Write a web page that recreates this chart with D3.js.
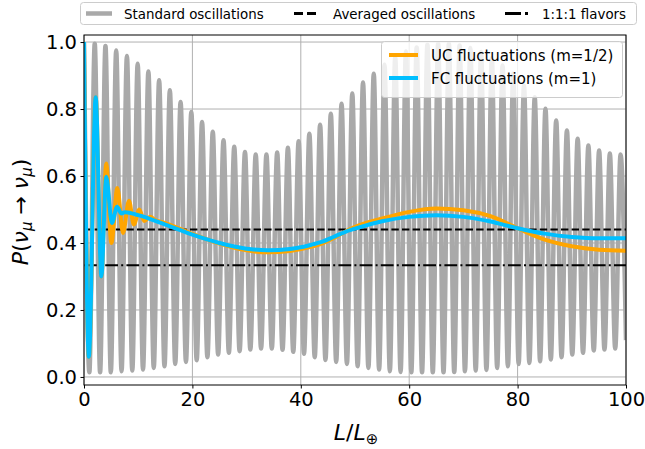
<!DOCTYPE html>
<html>
<head>
<meta charset="utf-8">
<script src="https://cdn.jsdelivr.net/npm/d3@7"></script>
<style>
  body { margin: 0; background: #fff; }
  text { font-family: "DejaVu Sans", sans-serif; }
</style>
</head>
<body>
<svg id="chart" width="645" height="449"></svg>
<script>
// grey curve: read peaks and troughs of the standard oscillations
const peakL = [0, 1.98, 3.96, 5.94, 7.92, 9.90, 11.88, 13.86, 15.84, 17.82, 19.80, 21.78, 23.76, 25.74, 27.72, 29.70, 31.68,
  33.66, 35.64, 37.62, 39.60, 41.58, 43.56, 45.54, 47.52, 49.50, 51.48, 53.46, 55.44, 57.42, 59.40, 61.38, 63.36, 65.34,
  67.32, 69.30, 71.28, 73.26, 75.24, 77.22, 79.20, 81.18, 83.16, 85.14, 87.12, 89.10, 91.08, 93.06, 95.04, 97.02, 99.00];
const peakP = [1.0, 0.995, 0.988, 0.975, 0.958, 0.935, 0.912, 0.886, 0.856, 0.821, 0.791, 0.761, 0.732, 0.707, 0.687, 0.672, 0.664,
  0.664, 0.670, 0.684, 0.704, 0.726, 0.753, 0.786, 0.816, 0.846, 0.879, 0.905, 0.932, 0.955, 0.972, 0.984, 0.992, 0.995,
  0.995, 0.990, 0.982, 0.970, 0.952, 0.930, 0.905, 0.870, 0.835, 0.801, 0.766, 0.736, 0.711, 0.691, 0.676, 0.667, 0.664];
const troughL = [0.99, 2.97, 4.95, 6.93, 8.91, 10.89, 12.87, 14.85, 16.83, 18.81, 20.79, 22.77, 24.75, 26.73, 28.71, 30.69,
  32.67, 34.65, 36.63, 38.61, 40.59, 42.57, 44.55, 46.53, 48.51, 50.49, 52.47, 54.45, 56.43, 58.41, 60.39, 62.37, 64.35,
  66.33, 68.31, 70.29, 72.27, 74.25, 76.23, 78.21, 80.19, 82.17, 84.15, 86.13, 88.11, 90.09, 92.07, 94.05, 96.03, 98.01, 100];
const troughP = [0.014, 0.014, 0.014, 0.017, 0.019, 0.022, 0.027, 0.032, 0.039, 0.045, 0.050, 0.059, 0.067, 0.072, 0.077, 0.082,
  0.085, 0.085, 0.081, 0.075, 0.069, 0.059, 0.051, 0.045, 0.039, 0.032, 0.027, 0.022, 0.017, 0.015, 0.014, 0.014, 0.014,
  0.014, 0.015, 0.017, 0.019, 0.021, 0.027, 0.032, 0.039, 0.042, 0.047, 0.052, 0.059, 0.067, 0.072, 0.079, 0.082, 0.085, 0.11];

// UC fluctuations (m=1/2)
const ucL = [0, 0.9, 2.15, 3.2, 4.1, 5.05, 6.15, 7.2, 8.3, 9.2, 10.2, 11.1, 12.2, 13.2, 14.5, 20, 25, 30, 34, 38, 42, 44, 46,
  48, 50, 55, 60, 65, 70, 75, 80, 85, 90, 95, 100];
const ucP = [1.0, 0.06, 0.835, 0.30, 0.637, 0.40, 0.564, 0.43, 0.526, 0.455, 0.50, 0.466, 0.478, 0.468, 0.462, 0.427, 0.398,
  0.378, 0.372, 0.376, 0.389, 0.399, 0.414, 0.432, 0.448, 0.473, 0.493, 0.503, 0.498, 0.480, 0.444, 0.410, 0.390, 0.380, 0.377];

// FC fluctuations (m=1)
const fcL = [0, 0.9, 2.15, 3.2, 4.1, 5.15, 6.1, 6.9, 7.6, 10, 15, 20, 25, 30, 34, 38, 40.5, 42, 44, 46, 48, 50, 55, 60, 65,
  70, 75, 80, 85, 90, 95, 100];
const fcP = [1.0, 0.06, 0.835, 0.30, 0.598, 0.46, 0.508, 0.488, 0.492, 0.483, 0.455, 0.425, 0.400, 0.383, 0.378, 0.382,
  0.389, 0.395, 0.404, 0.418, 0.432, 0.443, 0.465, 0.478, 0.483, 0.478, 0.464, 0.444, 0.428, 0.418, 0.414, 0.414];

const avgP = 0.44;
const flavorP = 1 / 3;
const xTicks = [0, 20, 40, 60, 80, 100];
const yTicks = [0.0, 0.2, 0.4, 0.6, 0.8, 1.0];

const svg = d3.select('#chart');
const area = { left: 84, right: 626, top: 35, bottom: 385 };

const x = d3.scaleLinear().domain([0, 100]).range([area.left, area.right]);
const y = d3.scaleLinear().domain([-0.024, 1.021]).range([area.bottom, area.top]);

svg.append('defs').append('clipPath').attr('id', 'clip')
  .append('rect')
  .attr('x', area.left).attr('y', area.top)
  .attr('width', area.right - area.left).attr('height', area.bottom - area.top);

// grid
svg.append('g').selectAll('line').data(xTicks).enter().append('line')
  .attr('x1', d => x(d)).attr('x2', d => x(d))
  .attr('y1', area.top).attr('y2', area.bottom)
  .attr('stroke', '#b0b0b0').attr('stroke-width', 1);
svg.append('g').selectAll('line').data(yTicks).enter().append('line')
  .attr('y1', d => y(d)).attr('y2', d => y(d))
  .attr('x1', area.left).attr('x2', area.right)
  .attr('stroke', '#b0b0b0').attr('stroke-width', 1);

const line = d3.line().x(d => x(d[0])).y(d => y(d[1])).curve(d3.curveMonotoneX);

const osc = peakL.map((l, i) => [l, peakP[i]])
  .concat(troughL.map((l, i) => [l, troughP[i]]))
  .sort((a, b) => a[0] - b[0]);

const plot = svg.append('g').attr('clip-path', 'url(#clip)');

plot.append('path').datum(osc)
  .attr('d', line).attr('fill', 'none')
  .attr('stroke', '#a9a9a9').attr('stroke-width', 4.5);

plot.append('line')
  .attr('x1', x(0)).attr('x2', x(100)).attr('y1', y(avgP)).attr('y2', y(avgP))
  .attr('stroke', '#000').attr('stroke-width', 2).attr('stroke-dasharray', '7.4,3.2');
plot.append('line')
  .attr('x1', x(0)).attr('x2', x(100)).attr('y1', y(flavorP)).attr('y2', y(flavorP))
  .attr('stroke', '#000').attr('stroke-width', 2).attr('stroke-dasharray', '12.8,3.2,2,3.2');

plot.append('path').datum(ucL.map((l, i) => [l, ucP[i]]))
  .attr('d', line).attr('fill', 'none')
  .attr('stroke', '#ffa500').attr('stroke-width', 4);
plot.append('path').datum(fcL.map((l, i) => [l, fcP[i]]))
  .attr('d', line).attr('fill', 'none')
  .attr('stroke', '#00bfff').attr('stroke-width', 4);

// axes
const xAxis = svg.append('g').attr('transform', `translate(0,${area.bottom})`)
  .call(d3.axisBottom(x).tickValues(xTicks).tickSize(3.5).tickPadding(3.5).tickFormat(d3.format('d')));
const yAxis = svg.append('g').attr('transform', `translate(${area.left},0)`)
  .call(d3.axisLeft(y).tickValues(yTicks).tickSize(3.5).tickPadding(3.5).tickFormat(d3.format('.1f')));
[xAxis, yAxis].forEach(a => {
  a.select('.domain').remove();
  a.selectAll('.tick line').attr('stroke', '#000').attr('stroke-width', 1);
  a.selectAll('.tick text').attr('fill', '#000').style('font-size', '19.5px')
    .style('font-family', '"DejaVu Sans", sans-serif');
});

svg.append('rect')
  .attr('x', area.left).attr('y', area.top)
  .attr('width', area.right - area.left).attr('height', area.bottom - area.top)
  .attr('fill', 'none').attr('stroke', '#000').attr('stroke-width', 1);

// axis labels
const xl = svg.append('text').attr('x', 356).attr('y', 440).attr('text-anchor', 'middle').style('font-size', '22px');
xl.append('tspan').style('font-style', 'italic').text('L');
xl.append('tspan').text('/');
xl.append('tspan').style('font-style', 'italic').text('L');
xl.append('tspan').attr('dy', 4).style('font-size', '15px').text('⊕');

const yl = svg.append('text').attr('transform', 'translate(28,212) rotate(-90)')
  .attr('text-anchor', 'middle').style('font-size', '22px');
yl.append('tspan').style('font-style', 'italic').text('P');
yl.append('tspan').text('(');
yl.append('tspan').style('font-style', 'italic').text('ν');
yl.append('tspan').attr('dy', 4).style('font-size', '15px').style('font-style', 'italic').text('μ');
yl.append('tspan').attr('dy', -4).text(' → ');
yl.append('tspan').style('font-style', 'italic').text('ν');
yl.append('tspan').attr('dy', 4).style('font-size', '15px').style('font-style', 'italic').text('μ');
yl.append('tspan').attr('dy', -4).text(')');

// top legend
const topLegend = [
  { label: 'Standard oscillations', color: '#a9a9a9', width: 4.5, dash: null, x: 86, tx: 124 },
  { label: 'Averaged oscillations', color: '#000', width: 3, dash: '9,4', x: 294, tx: 333 },
  { label: '1:1:1 flavors', color: '#000', width: 3, dash: '16,4,3,4', x: 505, tx: 542 }
];
svg.append('rect').attr('x', 80.5).attr('y', 2.5).attr('width', 556).attr('height', 22).attr('rx', 3)
  .attr('fill', '#fff').attr('stroke', '#cccccc').attr('stroke-width', 1);
const tl = svg.append('g').selectAll('g').data(topLegend).enter().append('g');
tl.append('line').attr('x1', d => d.x).attr('x2', d => d.x + 26).attr('y1', 13.5).attr('y2', 13.5)
  .attr('stroke', d => d.color).attr('stroke-width', d => d.width).attr('stroke-dasharray', d => d.dash);
tl.append('text').attr('x', d => d.tx).attr('y', 18.5).style('font-size', '13.4px').text(d => d.label);

// inner legend
const innerLegend = [
  { label: 'UC fluctuations (m=1/2)', color: '#ffa500' },
  { label: 'FC fluctuations (m=1)', color: '#00bfff' }
];
svg.append('rect').attr('x', 381.5).attr('y', 41.5).attr('width', 241).attr('height', 56).attr('rx', 3)
  .attr('fill', '#fff').attr('fill-opacity', 0.8).attr('stroke', '#cccccc').attr('stroke-width', 1);
const il = svg.append('g').selectAll('g').data(innerLegend).enter().append('g')
  .attr('transform', (d, i) => `translate(0,${55 + i * 23})`);
il.append('line').attr('x1', 389).attr('x2', 418).attr('stroke', d => d.color).attr('stroke-width', 4);
il.append('text').attr('x', 431).attr('y', 5.5).style('font-size', '15px').text(d => d.label);
</script>
</body>
</html>
